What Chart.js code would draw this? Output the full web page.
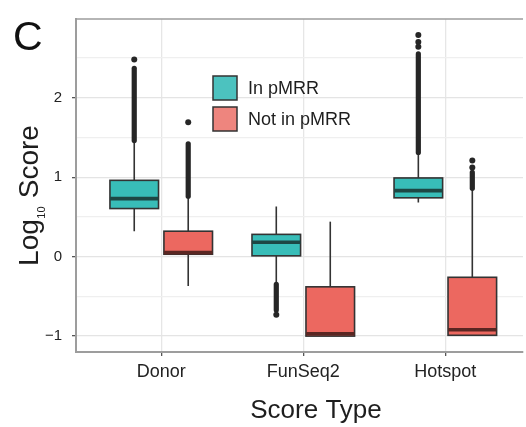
<!DOCTYPE html>
<html>
<head>
<meta charset="utf-8">
<script src="https://cdn.jsdelivr.net/npm/chart.js@4/dist/chart.umd.min.js"></script>
<style>
  html, body { margin: 0; padding: 0; background: #ffffff; }
  #wrap { width: 526px; height: 427px; position: relative; }
</style>
</head>
<body>
<div id="wrap"><canvas id="chart" width="526" height="427"></canvas></div>
<script>
// Score types along the x axis and the two pMRR groups
const categories = ['Donor', 'FunSeq2', 'Hotspot'];
const groupNames = ['In pMRR', 'Not in pMRR'];
const yTickValues = [-1, -0.5, 0, 0.5, 1, 1.5, 2, 2.5];

// Box statistics (log10 score) for variants in pMRR
const inLower  = [0.32, -0.35, 0.68];
const inQ1     = [0.605, 0.01, 0.74];
const inMedian = [0.73, 0.18, 0.83];
const inQ3     = [0.96, 0.28, 0.99];
const inUpper  = [1.46, 0.63, 1.31];
// dense outlier runs [from, to] and separate outliers
const inOutlierRuns   = [[1.46, 2.37], [-0.35, -0.67], [1.31, 2.55]];
const inOutlierPoints = [[2.48], [-0.73], [2.64, 2.70, 2.79]];

// Box statistics for variants not in pMRR
const notLower  = [-0.37, -1.0, -1.0];
const notQ1     = [0.03, -1.0, -0.99];
const notMedian = [0.05, -0.97, -0.92];
const notQ3     = [0.32, -0.38, -0.26];
const notUpper  = [0.76, 0.44, 0.86];
const notOutlierRuns   = [[0.76, 1.42], null, [0.86, 1.06]];
const notOutlierPoints = [[1.69], [], [1.12, 1.21]];

const TEAL = '#38bdb8';
const RED = '#ec6860';
const FONT = '"Liberation Sans", Arial, Helvetica, sans-serif';

const groups = [
  { name: groupNames[0], offset: -0.19, fill: TEAL, key: '#4cc2bf', median: '#1d4744',
    lower: inLower, q1: inQ1, med: inMedian, q3: inQ3, upper: inUpper,
    runs: inOutlierRuns, pts: inOutlierPoints },
  { name: groupNames[1], offset: 0.19, fill: RED, key: '#ee857e', median: '#5a2622',
    lower: notLower, q1: notQ1, med: notMedian, q3: notQ3, upper: notUpper,
    runs: notOutlierRuns, pts: notOutlierPoints }
];
const BOX_HALF = 0.171;

// separate outliers as scatter points
const outlierDatasets = groups.map(g => ({
  label: g.name,
  data: g.pts.flatMap((vals, i) => vals.map(v => ({ x: i + 1 + g.offset, y: v }))),
  pointRadius: 3,
  pointHoverRadius: 3,
  pointBackgroundColor: '#262626',
  pointBorderWidth: 0,
  showLine: false
}));

const boxPlugin = {
  id: 'boxes',
  beforeDatasetsDraw(chart) {
    const { ctx, scales: { x, y }, chartArea } = chart;
    ctx.save();
    ctx.beginPath();
    ctx.rect(chartArea.left, chartArea.top, chartArea.right - chartArea.left, chartArea.bottom - chartArea.top);
    ctx.clip();
    groups.forEach(g => {
      categories.forEach((c, i) => {
        const cx = x.getPixelForValue(i + 1 + g.offset);
        const xl = x.getPixelForValue(i + 1 + g.offset - BOX_HALF);
        const xr = x.getPixelForValue(i + 1 + g.offset + BOX_HALF);
        const yq1 = y.getPixelForValue(g.q1[i]);
        const yq3 = y.getPixelForValue(g.q3[i]);
        // whiskers
        ctx.strokeStyle = '#333333';
        ctx.lineWidth = 1.6;
        ctx.beginPath();
        ctx.moveTo(cx, y.getPixelForValue(g.lower[i]));
        ctx.lineTo(cx, yq1);
        ctx.moveTo(cx, yq3);
        ctx.lineTo(cx, y.getPixelForValue(g.upper[i]));
        ctx.stroke();
        // dense outlier runs
        const run = g.runs[i];
        if (run) {
          ctx.strokeStyle = '#262626';
          ctx.lineWidth = 5.2;
          ctx.lineCap = 'round';
          ctx.beginPath();
          ctx.moveTo(cx, y.getPixelForValue(run[0]));
          ctx.lineTo(cx, y.getPixelForValue(run[1]));
          ctx.stroke();
          ctx.lineCap = 'butt';
        }
        // box
        ctx.fillStyle = g.fill;
        ctx.fillRect(xl, yq3, xr - xl, yq1 - yq3);
        ctx.strokeStyle = '#333333';
        ctx.lineWidth = 1.6;
        ctx.strokeRect(xl, yq3, xr - xl, yq1 - yq3);
        // median
        const ym = y.getPixelForValue(g.med[i]);
        ctx.strokeStyle = g.median;
        ctx.lineWidth = 3.6;
        ctx.beginPath();
        ctx.moveTo(xl, ym);
        ctx.lineTo(xr, ym);
        ctx.stroke();
      });
    });
    ctx.restore();
  },
  afterDraw(chart) {
    const { ctx, chartArea } = chart;
    ctx.save();
    // panel top border
    ctx.strokeStyle = '#9d9d9d';
    ctx.lineWidth = 1.6;
    ctx.beginPath();
    ctx.moveTo(chartArea.left, chartArea.top);
    ctx.lineTo(chartArea.right, chartArea.top);
    ctx.stroke();

    // legend
    const keyX = 213, keyW = 24, keyH = 24;
    const keyY = [76, 107];
    groups.forEach((g, k) => {
      ctx.fillStyle = g.key;
      ctx.fillRect(keyX, keyY[k], keyW, keyH);
      ctx.strokeStyle = '#333333';
      ctx.lineWidth = 1.5;
      ctx.strokeRect(keyX, keyY[k], keyW, keyH);
      ctx.fillStyle = '#1e1e1e';
      ctx.font = '18px ' + FONT;
      ctx.textBaseline = 'middle';
      ctx.textAlign = 'left';
      ctx.fillText(g.name, 248, keyY[k] + keyH / 2 + 1);
    });

    // panel letter
    ctx.fillStyle = '#111111';
    ctx.font = '41px ' + FONT;
    ctx.textBaseline = 'alphabetic';
    ctx.fillText('C', 13, 50);

    // x axis title
    ctx.fillStyle = '#1e1e1e';
    ctx.font = '26px ' + FONT;
    ctx.textAlign = 'center';
    ctx.fillText('Score Type', 316, 418);

    // y axis title: Log10 Score, with subscript
    ctx.translate(38, 196);
    ctx.rotate(-Math.PI / 2);
    const bigFont = '28px ' + FONT, subFont = '11px ' + FONT;
    ctx.font = bigFont;
    const wLog = ctx.measureText('Log').width;
    const wScore = ctx.measureText(' Score').width;
    ctx.font = subFont;
    const wSub = ctx.measureText('10').width;
    const total = wLog + wSub + wScore;
    let cx0 = -total / 2;
    ctx.textAlign = 'left';
    ctx.font = bigFont;
    ctx.fillText('Log', cx0, 0);
    ctx.font = subFont;
    ctx.fillText('10', cx0 + wLog + 0.5, 7);
    ctx.font = bigFont;
    ctx.fillText(' Score', cx0 + wLog + wSub + 1, 0);
    ctx.restore();
  }
};

const isMajor = v => Number.isInteger(v);

new Chart(document.getElementById('chart'), {
  type: 'scatter',
  data: { datasets: outlierDatasets },
  options: {
    responsive: false,
    animation: false,
    devicePixelRatio: 1,
    layout: { padding: { top: 17, right: 0, left: 0, bottom: 0 } },
    plugins: { legend: { display: false }, tooltip: { enabled: false } },
    scales: {
      x: {
        type: 'linear',
        min: 0.4,
        max: 0.4 + 450 / 143,
        afterFit: s => { s.height = 75; },
        afterBuildTicks: s => { s.ticks = categories.map((c, i) => ({ value: i + 1 })); },
        ticks: {
          callback: v => categories[v - 1],
          font: { family: FONT, size: 18 },
          color: '#222222',
          padding: 5,
          maxRotation: 0,
          autoSkip: false
        },
        grid: { color: '#e6e6e6', lineWidth: 1.3, tickLength: 4, tickColor: '#555555', tickWidth: 1.3 },
        border: { display: true, color: '#9d9d9d', width: 2 }
      },
      y: {
        min: -1.2,
        max: 2.99,
        afterFit: s => { s.width = 76; },
        afterBuildTicks: s => { s.ticks = yTickValues.map(v => ({ value: v })); },
        ticks: {
          callback: v => (isMajor(v) ? (v < 0 ? '\u2212' + Math.abs(v) : String(v)) : ''),
          font: { family: FONT, size: 15 },
          color: '#222222',
          padding: 10
        },
        grid: {
          color: ctx => (isMajor(ctx.tick.value) ? '#e4e4e4' : '#efefef'),
          lineWidth: 1.3,
          tickLength: 4,
          tickColor: ctx => (isMajor(ctx.tick.value) ? '#555555' : 'rgba(0,0,0,0)'),
          tickWidth: 1.3
        },
        border: { display: true, color: '#9d9d9d', width: 2 }
      }
    }
  },
  plugins: [boxPlugin]
});
</script>
</body>
</html>
